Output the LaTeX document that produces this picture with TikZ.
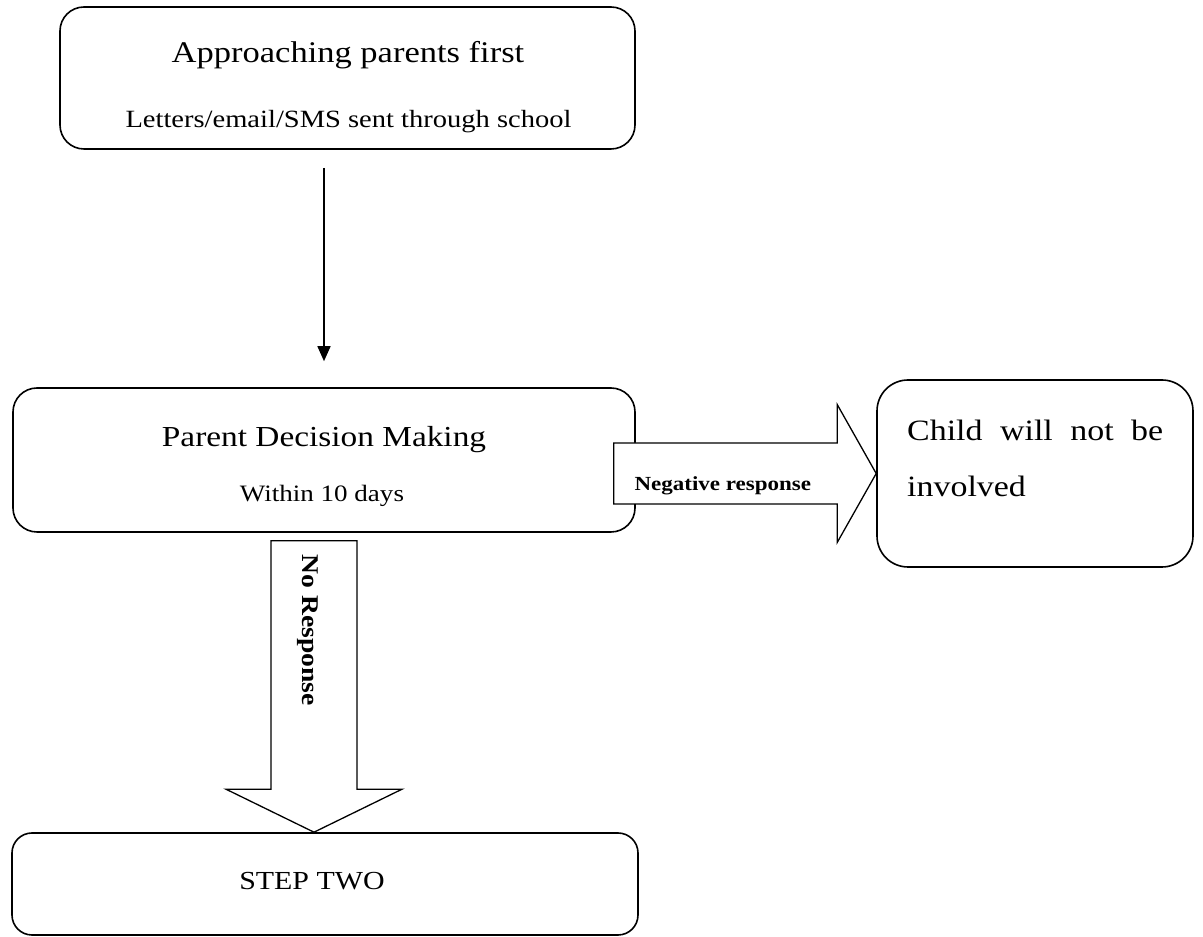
\documentclass[tikz,border=0pt]{standalone}
\usepackage{fontspec}
\setmainfont{Liberation Serif}[FakeStretch=1.15]
\usetikzlibrary{calc,arrows.meta}
\tikzset{
  boxnode/.style={draw=black, line width=1.6pt, rounded corners=#1, inner sep=0pt, fill=white},
  blockarrow/.style={draw=black, line width=1.3pt, fill=white, line join=miter},
  thinarrow/.style={line width=1.5pt, -{Triangle[width=13pt,length=15pt]}},
  txt/.style={inner sep=0pt, anchor=base}
}
\begin{document}
\begin{tikzpicture}
\useasboundingbox (0,0) rectangle (1203pt,937pt);
\begin{scope}[x=1pt,y=1pt]
% boxes
\node[boxnode=24pt, minimum width=575pt, minimum height=142pt] (box1) at (347.5,859) {};
\node[boxnode=24pt, minimum width=622pt, minimum height=144pt] (box2) at (324,477) {};
\node[boxnode=31pt, minimum width=316pt, minimum height=187pt] (box3) at (1035,463.5) {};
\node[boxnode=20pt, minimum width=626pt, minimum height=102pt] (box4) at (325,53) {};

% texts
\node[txt] (t1a) at (348,874) {\fontsize{30}{35}\selectfont Approaching parents first};
\node[txt] (t1b) at (348.5,809) {\fontsize{24.8}{29}\selectfont Letters/email/SMS sent through school};
\node[txt] (t2a) at (324,490) {\fontsize{29}{34}\selectfont Parent Decision Making};
\node[txt] (t2b) at (322,435) {\fontsize{23.5}{28}\selectfont Within 10 days};
\node[txt, anchor=base west] (t3a) at (907,496) {\fontsize{29.5}{35}\selectfont\makebox[256pt][s]{Child will not be}};
\node[txt, anchor=base west] (t3b) at (907,440) {\fontsize{29.5}{35}\selectfont involved};
\node[txt] (t4) at (312,47) {\fontsize{26}{31}\selectfont STEP TWO};

% thin arrow
\coordinate (aS) at ($(box1.south -| box2.north)+(0,-18)$);
\coordinate (aE) at ($(box2.north)+(0,26)$);
\draw[thinarrow] (aS) -- (aE);

% Negative response block arrow
\coordinate (nT) at (box3.west);
\coordinate (nA) at ($(box2.east)+(-22,0)$);
\coordinate (nS) at (nA |- nT);
\draw[blockarrow] ([yshift=30.5pt]nS) -- ([xshift=-39pt,yshift=30.5pt]nT) -- ([xshift=-39pt,yshift=69pt]nT) -- (nT) -- ([xshift=-39pt,yshift=-69pt]nT) -- ([xshift=-39pt,yshift=-30.5pt]nT) -- ([yshift=-30.5pt]nS) -- cycle;
\node[txt] (nl) at ($(nS)+(109,-17.5)$) {\fontsize{20}{24}\selectfont\bfseries Negative response};

% No Response block arrow
\coordinate (dT) at ($(box4.north)+(-11,0)$);
\coordinate (dU) at (dT |- box2.south);
\draw[blockarrow] ([xshift=-43pt,yshift=-8pt]dU) -- ([xshift=43pt,yshift=-8pt]dU) -- ([xshift=43pt,yshift=43pt]dT) -- ([xshift=88pt,yshift=43pt]dT) -- (dT) -- ([xshift=-88pt,yshift=43pt]dT) -- ([xshift=-43pt,yshift=43pt]dT) -- cycle;
\node[inner sep=0pt, rotate=-90] (dl) at (308,307) {\fontsize{24}{29}\selectfont\bfseries No Response};
\end{scope}
\end{tikzpicture}
\end{document}
